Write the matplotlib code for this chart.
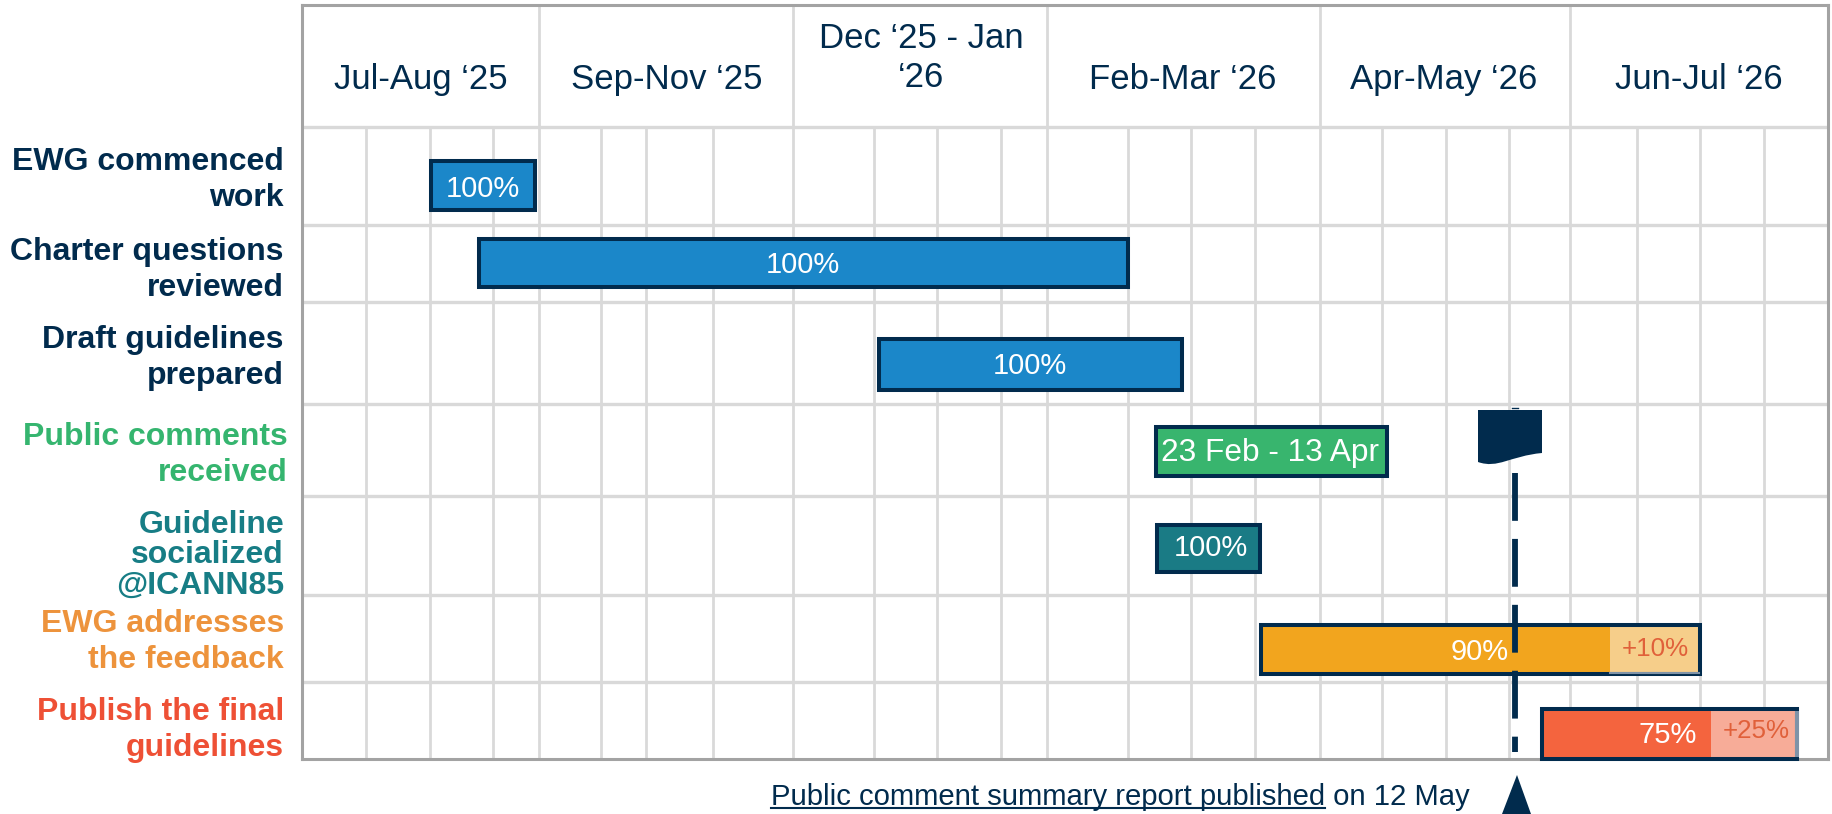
import matplotlib.pyplot as plt
from matplotlib.patches import PathPatch, Polygon, Rectangle
from matplotlib.path import Path

NAVY = "#012B4D"
GRID = "#D9D9D9"
FRAME = "#A3A3A3"

plt.rcParams["font.family"] = ["Liberation Sans", "DejaVu Sans"]

# timeline
period_labels = ["Jul-Aug ‘25", "Sep-Nov ‘25", "Dec ‘25 - Jan\n‘26", "Feb-Mar ‘26", "Apr-May ‘26", "Jun-Jul ‘26"]
period_centers = [421, 667, 921, 1183, 1444, 1699]
period_middles = [79, 79, 58, 79, 79, 79]
period_edges = [539, 793, 1047, 1320, 1570]
sub_edges = [366, 430, 493, 601, 646, 713, 874, 937, 1001, 1128, 1191, 1255, 1382, 1446, 1509, 1637, 1700, 1764]
row_edges = [127, 225, 302, 404, 496, 595, 682]

# tasks
task_labels = [
    "EWG commenced\nwork",
    "Charter questions\nreviewed",
    "Draft guidelines\nprepared",
    "Public comments\nreceived",
    "Guideline\nsocialized\n@ICANN85",
    "EWG addresses\nthe feedback",
    "Publish the final\nguidelines",
]
label_colors = ["#012B4D", "#012B4D", "#012B4D", "#35B56F", "#177D85", "#ED933C", "#EE5035"]
label_centers = [180, 270, 358, 455, 555, 642, 730]
bar_start = [429, 477, 877, 1154, 1155, 1259, 1540]
bar_end = [537, 1130, 1184, 1389, 1262, 1702, 1799]
bar_top = [159, 237, 337, 425, 523, 623, 707]
bar_bottom = [212, 289, 392, 478, 574, 676, 761]
bar_colors = ["#1B87C9", "#1B87C9", "#1B87C9", "#38B56E", "#1A7B85", "#F2A51E", "#F4643E"]
bar_text = ["100%", "100%", "100%", "23 Feb - 13 Apr", "100%", "90%", "75%"]
bar_text_x = [483, 803, 1030, 1270, 1211, 1480, 1668]
bar_text_y = [189, 265, 366, 453, 548, 652, 735]
bar_text_size = [21, 21, 21, 22.8, 21, 21, 21]

# part of the bar still open
rest_rows = [5, 6]
rest_start = [1610, 1711]
rest_colors = ["#F6CE8A", "#F7AC98"]
rest_text = ["+10%", "+25%"]
rest_text_x = [1655, 1756]
rest_text_y = [649, 731]

marker_x = 1515

fig = plt.figure(figsize=(18.33, 8.14), dpi=100)
ax = fig.add_axes([302 / 1833, 1 - 759 / 814, 1526 / 1833, 754 / 814])
ax.set_xlim(302, 1828)
ax.set_ylim(759, 5)
ax.set_xticks([])
ax.set_yticks([])
for spine in ax.spines.values():
    spine.set_color(FRAME)
    spine.set_linewidth(2.2)

ax.vlines(sub_edges, 127, 759, color=GRID, lw=2, zorder=1)
ax.vlines(period_edges, 5, 759, color=GRID, lw=2, zorder=1)
ax.hlines(row_edges, 302, 1828, color=GRID, lw=2.4, zorder=1)

for label, x, y in zip(period_labels, period_centers, period_middles):
    ax.text(x, y, label, color=NAVY, fontsize=25, ha="center", va="center", linespacing=1.22)

for label, color, y in zip(task_labels, label_colors, label_centers):
    right = 288 if color == "#35B56F" else 284
    spacing = 1.02 if "@" in label else 1.24
    ax.text(right, y, label, color=color, fontsize=23, fontweight="bold", ha="right", va="center",
            multialignment="right", linespacing=spacing, clip_on=False)

for i in range(len(bar_start)):
    ax.add_patch(Rectangle((bar_start[i], bar_top[i]), bar_end[i] - bar_start[i], bar_bottom[i] - bar_top[i],
                           facecolor=bar_colors[i], edgecolor="none", zorder=3, clip_on=False))

for row, x0, color in zip(rest_rows, rest_start, rest_colors):
    ax.add_patch(Rectangle((x0, bar_top[row]), bar_end[row] - x0, bar_bottom[row] - bar_top[row],
                           facecolor=color, edgecolor="none", zorder=3, clip_on=False))

for i in range(len(bar_start)):
    ax.add_patch(Rectangle((bar_start[i] + 2, bar_top[i] + 2), bar_end[i] - bar_start[i] - 4,
                           bar_bottom[i] - bar_top[i] - 4, facecolor="none", edgecolor=NAVY,
                           lw=2.9, zorder=4, clip_on=False))

# the pale overlays wash out the border a little
ax.plot([rest_start[0], bar_end[5] - 3], [bar_bottom[5] - 3, bar_bottom[5] - 3], color="#7F93A8", lw=1.5, zorder=4.5)
ax.plot([bar_end[6] - 2, bar_end[6] - 2], [bar_top[6] + 4, bar_bottom[6] - 4], color="#7F93A8", lw=2.9, zorder=4.5,
        solid_capstyle="butt", clip_on=False)

for label, x, y, size in zip(bar_text, bar_text_x, bar_text_y, bar_text_size):
    ax.text(x, y, label, color="white", fontsize=size, ha="center", va="center", zorder=6)

for label, x, y in zip(rest_text, rest_text_x, rest_text_y):
    ax.text(x, y, label, color="#E0603A", fontsize=18.7, ha="center", va="center", zorder=6)

# publication marker: dashed line, flag and arrow head
ax.plot([marker_x, marker_x], [473, 752], color=NAVY, lw=4.2, dashes=(8.2, 3.1), dash_capstyle="butt", zorder=5)
ax.plot([marker_x - 3, marker_x + 3], [408, 408], color=NAVY, lw=1, zorder=5)
flag = Path(
    [(1478, 410), (1542, 410), (1542, 453), (1510, 456), (1498, 469), (1478, 462), (1478, 410)],
    [Path.MOVETO, Path.LINETO, Path.LINETO, Path.CURVE4, Path.CURVE4, Path.CURVE4, Path.CLOSEPOLY],
)
ax.add_patch(PathPatch(flag, facecolor=NAVY, edgecolor="none", zorder=5))
ax.add_patch(Polygon([(1502, 814), (1517, 775), (1531, 814)], facecolor=NAVY, edgecolor="none", clip_on=False, zorder=5))

tail = ax.text(1470, 805, " on 12 May", color=NAVY, fontsize=21.1, ha="right", va="baseline", clip_on=False)
fig.canvas.draw()
renderer = fig.canvas.get_renderer()
inv = ax.transData.inverted()
tail_left = inv.transform(tail.get_window_extent(renderer).get_points())[0, 0]
head = ax.text(tail_left, 805, "Public comment summary report published", color=NAVY, fontsize=21.1,
               ha="right", va="baseline", clip_on=False)
head_left = inv.transform(head.get_window_extent(renderer).get_points())[0, 0]
ax.plot([head_left, tail_left], [808.5, 808.5], color=NAVY, lw=1.5, clip_on=False, zorder=5)

fig.savefig("out.png", dpi=100)
